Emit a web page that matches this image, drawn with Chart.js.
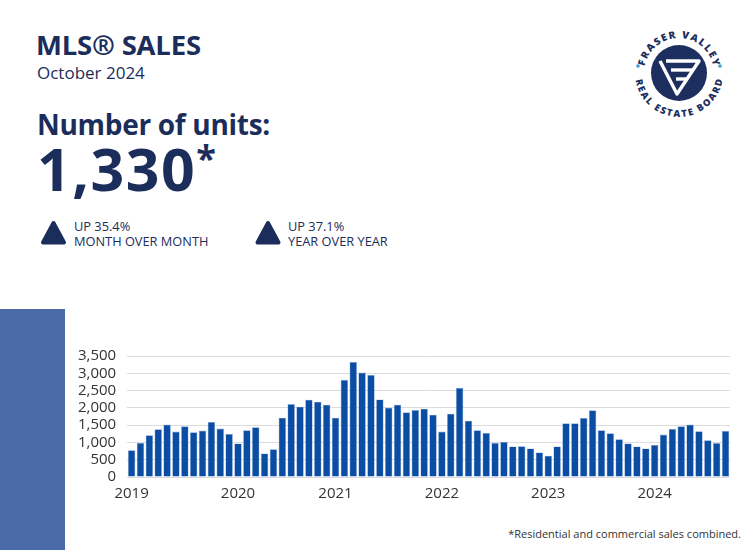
<!DOCTYPE html>
<html>
<head>
<meta charset="utf-8">
<script src="https://cdn.jsdelivr.net/npm/chart.js@4.4.1/dist/chart.umd.min.js"></script>
<style>
  html, body { margin: 0; padding: 0; background: #fff; }
  body { width: 750px; height: 550px; position: relative; overflow: hidden; font-family: "Open Sans", sans-serif; color: #1b2d5b; }
  .abs { position: absolute; white-space: nowrap; }
  #title { left: 36px; top: 26px; font-size: 27.5px; font-weight: 700; letter-spacing: -0.2px; }
  #month { left: 37px; top: 61px; font-size: 17px; }
  #units { left: 37px; top: 105px; font-size: 28px; font-weight: 700; letter-spacing: -0.3px; }
  #big { left: 37px; top: 128px; font-size: 59px; font-weight: 700; letter-spacing: 1.5px; }
  #big sup { font-size: 36px; vertical-align: 0; position: relative; top: -20px; }
  .chg { font-size: 12.8px; line-height: 14.5px; }
  #blueBlock { left: 0; top: 309px; width: 65px; height: 241px; background: #4a6aa8; }
  #note { right: 9px; top: 526px; font-size: 11px; color: #333; }
  #chartBox { left: 65px; top: 336px; }
</style>
</head>
<body>
<div class="abs" id="title">MLS® SALES</div>
<div class="abs" id="month">October 2024</div>
<div class="abs" id="units">Number of units:</div>
<div class="abs" id="big">1,330<sup>*</sup></div>

<svg class="abs" style="left:0;top:0" width="750" height="300">
  <polygon points="53.5,223 64,242.5 43,242.5" fill="#1b2d5b" stroke="#1b2d5b" stroke-width="4" stroke-linejoin="round"/>
  <polygon points="268,223 278.5,242.5 257.5,242.5" fill="#1b2d5b" stroke="#1b2d5b" stroke-width="4" stroke-linejoin="round"/>
  <!-- logo -->
  <defs>
    <path id="topArc" d="M 644 73 A 35 35 0 0 1 714 73"/>
    <path id="botArc" d="M 635 73 A 44 44 0 0 0 723 73"/>
  </defs>
  <circle cx="679" cy="73" r="28" fill="#1d2f5e"/>
  <text font-family="Open Sans" font-weight="800" font-size="10" fill="#1d2f5e">
    <textPath href="#topArc" startOffset="50%" text-anchor="middle" textLength="96" lengthAdjust="spacing">FRASER VALLEY</textPath>
  </text>
  <text font-family="Open Sans" font-weight="800" font-size="9.5" fill="#1d2f5e">
    <textPath href="#botArc" startOffset="50%" text-anchor="middle" textLength="124" lengthAdjust="spacing">REAL ESTATE BOARD</textPath>
  </text>
  <circle cx="638" cy="66" r="1.8" fill="#3b9ad8"/>
  <circle cx="720" cy="66" r="1.8" fill="#3b9ad8"/>
  <g fill="none" stroke="#fff" stroke-width="3.4" stroke-linejoin="round">
    <polyline points="660,61 677,94 699,61 666,61"/>
    <polyline points="671,70 693,70"/>
    <polyline points="676,79 687,79"/>
  </g>
</svg>
<div class="abs chg" style="left:74px;top:219px">UP 35.4%<br>MONTH OVER MONTH</div>
<div class="abs chg" style="left:288px;top:219px">UP 37.1%<br>YEAR OVER YEAR</div>

<div class="abs" id="blueBlock"></div>
<div class="abs" id="chartBox"><canvas id="salesChart" width="675" height="175"></canvas></div>
<div class="abs" id="note">*Residential and commercial sales combined.</div>

<script>
// monthly MLS sales, oldest first (68 months ending October 2024)
var sales = [
  777, 988, 1208, 1381, 1515, 1314, 1467, 1295, 1342, 1592, 1400, 1247,
  969, 1352, 1439, 681, 806, 1717, 2110, 2033, 2235, 2177, 2091,
  1717, 2810, 3328, 3021, 2954, 2244, 2004, 2091, 1870, 1937, 1976, 1803,
  1314, 1832, 2580, 1630, 1352, 1275, 988, 1017, 882, 892, 825, 710,
  614, 882, 1554, 1554, 1707, 1928, 1352, 1266, 1093, 970, 882, 825,
  930, 1228, 1391, 1467, 1515, 1323, 1064, 982, 1330
];
var yearLabels = ['2019', '2020', '2021', '2022', '2023', '2024'];
var yearLabelIndex = [0, 12, 23, 35, 47, 59];

var labels = [];
for (var i = 0; i < sales.length; i++) {
  var k = yearLabelIndex.indexOf(i);
  labels.push(k >= 0 ? yearLabels[k] : '');
}

var ctx = document.getElementById('salesChart');
var salesChart = new Chart(ctx, {
  type: 'bar',
  data: {
    labels: labels,
    datasets: [{
      label: 'Sales',
      data: sales,
      backgroundColor: '#0a4da2',
      borderColor: 'rgba(110,150,210,0.8)',
      borderWidth: 0.6,
      barPercentage: 0.84,
      categoryPercentage: 1.0
    }]
  },
  options: {
    responsive: false,
    animation: false,
    devicePixelRatio: 1,
    layout: { padding: { left: 2, right: 10, top: 1, bottom: 0 } },
    plugins: { legend: { display: false }, tooltip: { enabled: false } },
    scales: {
      x: {
        grid: { display: false, drawTicks: false },
        border: { display: false },
        ticks: {
          autoSkip: false, maxRotation: 0, padding: 8,
          color: '#333', font: { family: 'Open Sans', size: 15 }
        }
      },
      y: {
        min: 0, max: 3500,
        grid: { color: '#dcdcdc', lineWidth: 1, drawTicks: false },
        border: { display: false },
        ticks: {
          stepSize: 500, autoSkip: false, padding: 11,
          color: '#333', font: { family: 'Open Sans', size: 15 }
        }
      }
    }
  }
});
</script>
</body>
</html>
